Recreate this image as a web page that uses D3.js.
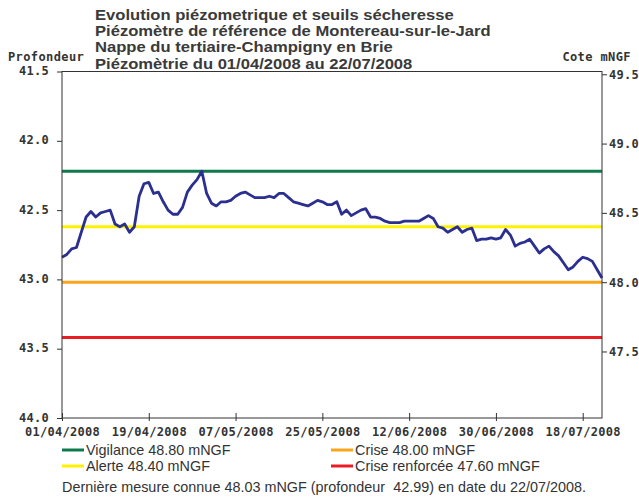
<!DOCTYPE html>
<html><head><meta charset="utf-8">
<script src="https://cdn.jsdelivr.net/npm/d3@7/dist/d3.min.js"></script>
<style>
body{margin:0;background:#fff;}
svg{display:block;}
</style></head>
<body><svg id="c" width="639" height="497"></svg>
<script>
// ---- data ----
const titleLines = [
  "Evolution piézometrique et seuils sécheresse",
  "Piézomètre de référence de Montereau-sur-le-Jard",
  "Nappe du tertiaire-Champigny en Brie",
  "Piézomètrie du 01/04/2008 au 22/07/2008"
];
const startDate = "2008-04-01";
const endDate = "2008-07-22";
const xTickDates = ["2008-04-01","2008-04-19","2008-05-07","2008-05-25","2008-06-12","2008-06-30","2008-07-18"];
const depthTicks = [41.5, 42.0, 42.5, 43.0, 43.5, 44.0];
const coteTicks = [49.5, 49.0, 48.5, 48.0, 47.5];
const refOffset = 91.02; // cote = refOffset - profondeur
// daily depth values (m) from 01/04/2008 to 22/07/2008
const depth = [
  42.84,42.82,42.78,42.77,42.66,42.55,42.51,42.55,42.52,42.51,
  42.50,42.60,42.62,42.60,42.66,42.62,42.40,42.31,42.30,42.38,
  42.37,42.44,42.50,42.53,42.53,42.48,42.37,42.32,42.28,42.22,
  42.38,42.45,42.47,42.44,42.44,42.43,42.40,42.38,42.37,42.39,
  42.41,42.41,42.41,42.40,42.41,42.38,42.38,42.41,42.44,42.45,
  42.46,42.47,42.45,42.43,42.44,42.46,42.46,42.44,42.53,42.50,
  42.54,42.52,42.50,42.49,42.55,42.55,42.56,42.58,42.59,42.59,
  42.59,42.58,42.58,42.58,42.58,42.56,42.54,42.56,42.62,42.63,
  42.66,42.64,42.62,42.66,42.64,42.63,42.72,42.71,42.71,42.70,
  42.71,42.70,42.64,42.68,42.76,42.74,42.73,42.71,42.76,42.81,
  42.78,42.76,42.80,42.83,42.88,42.93,42.91,42.87,42.84,42.85,
  42.87,42.93,42.99
];
const thresholdNames = ["Vigilance","Crise","Alerte","Crise renforcée"];
const thresholdValues = [48.80, 48.00, 48.40, 47.60];
const thresholdColors = ["#0e7a4c","#f8a51c","#fff200","#ea1c24"];
const noteText = "Dernière mesure connue 48.03 mNGF (profondeur  42.99) en date du 22/07/2008.";

// ---- chart ----
const svg = d3.select("#c");
const L = 62, R = 602, T = 71.5, B = 418;
const parse = d3.utcParse("%Y-%m-%d");
const x = d3.scaleUtc().domain([parse(startDate), parse(endDate)]).range([L, R]);
const yL = d3.scaleLinear().domain([41.5, 44]).range([T, B]);
const yR = d3.scaleLinear().domain([refOffset - 41.5, refOffset - 44]).range([T, B]);
const monoFont = "'DejaVu Sans Mono', monospace";
const sansFont = "'Liberation Sans', Arial, sans-serif";

// title: measure natural width at the reference size, render slightly shorter glyphs
const titles = svg.append("g").selectAll("text").data(titleLines).join("text")
  .attr("x", 95).attr("y", (d, i) => 19.5 + i * 16.4)
  .attr("font-family", sansFont).attr("font-weight", "bold")
  .attr("font-size", 16.6).attr("fill", "#3a3a3a").text(d => d);
titles.each(function() {
  const w = this.getComputedTextLength();
  d3.select(this).attr("font-size", 14.6).attr("textLength", w).attr("lengthAdjust", "spacingAndGlyphs");
});

svg.append("text").attr("x", 8).attr("y", 61).attr("font-family", monoFont).attr("font-weight", "bold")
  .attr("font-size", 12).attr("letter-spacing", 0.4).attr("fill", "#333").text("Profondeur");
svg.append("text").attr("x", 631).attr("y", 61).attr("text-anchor", "end").attr("font-family", monoFont).attr("font-weight", "bold")
  .attr("font-size", 12).attr("letter-spacing", 0.4).attr("fill", "#333").text("Cote mNGF");

// thresholds
svg.append("g").selectAll("line").data(thresholdValues).join("line")
  .attr("x1", L).attr("x2", R)
  .attr("y1", d => yR(d)).attr("y2", d => yR(d))
  .attr("stroke", (d, i) => thresholdColors[i]).attr("stroke-width", 3);

// series
const days = d3.utcDay.range(parse(startDate), d3.utcDay.offset(parse(endDate), 1));
const series = depth.map((v, i) => ({date: days[i], v}));
svg.append("path").datum(series)
  .attr("fill", "none").attr("stroke", "#2b2f8f").attr("stroke-width", 2.8)
  .attr("stroke-linejoin", "round")
  .attr("d", d3.line().x(d => x(d.date)).y(d => yL(d.v)));

// frame
svg.append("rect").attr("x", L).attr("y", T).attr("width", R - L).attr("height", B - T)
  .attr("fill", "none").attr("stroke", "#333").attr("stroke-width", 1);

function styleAxis(g) {
  g.select(".domain").remove();
  g.selectAll("line").attr("stroke", "#333");
  g.selectAll("text").attr("font-family", monoFont).attr("font-weight", "bold")
    .attr("font-size", 12).attr("letter-spacing", 0.3).attr("fill", "#333");
}
svg.append("g").attr("transform", `translate(${L},0)`)
  .call(d3.axisLeft(yL).tickValues(depthTicks).tickSize(5).tickPadding(8).tickFormat(d3.format(".1f")))
  .call(styleAxis)
  .selectAll(".tick text").attr("dy", "0.25em");
svg.append("g").attr("transform", `translate(${R},0)`)
  .call(d3.axisRight(yR).tickValues(coteTicks).tickSize(5).tickPadding(2).tickFormat(d3.format(".1f")))
  .call(styleAxis);
const xa = svg.append("g").attr("transform", `translate(0,${B})`)
  .call(d3.axisBottom(x).tickValues(xTickDates.map(parse)).tickSize(3).tickPadding(6).tickFormat(d3.utcFormat("%d/%m/%Y")))
  .call(styleAxis);
xa.selectAll(".tick line").attr("y1", -5).attr("y2", 3);

// legend
const legPos = [[62, 450], [331, 450], [62, 466], [331, 466]];
const leg = svg.append("g").selectAll("g").data(thresholdNames).join("g")
  .attr("transform", (d, i) => `translate(${legPos[i][0]},${legPos[i][1]})`);
leg.append("line").attr("x1", 0).attr("x2", 22).attr("y1", 0).attr("y2", 0)
  .attr("stroke", (d, i) => thresholdColors[i]).attr("stroke-width", 3);
leg.append("text").attr("x", 24).attr("y", 5).attr("font-family", sansFont)
  .attr("font-size", 14.4).attr("fill", "#333")
  .text((d, i) => `${d} ${thresholdValues[i].toFixed(2)} mNGF`);

svg.append("text").attr("x", 62).attr("y", 492).attr("font-family", sansFont)
  .attr("font-size", 14.4).attr("fill", "#333").attr("xml:space", "preserve")
  .style("white-space", "pre").text(noteText);
</script></body></html>
